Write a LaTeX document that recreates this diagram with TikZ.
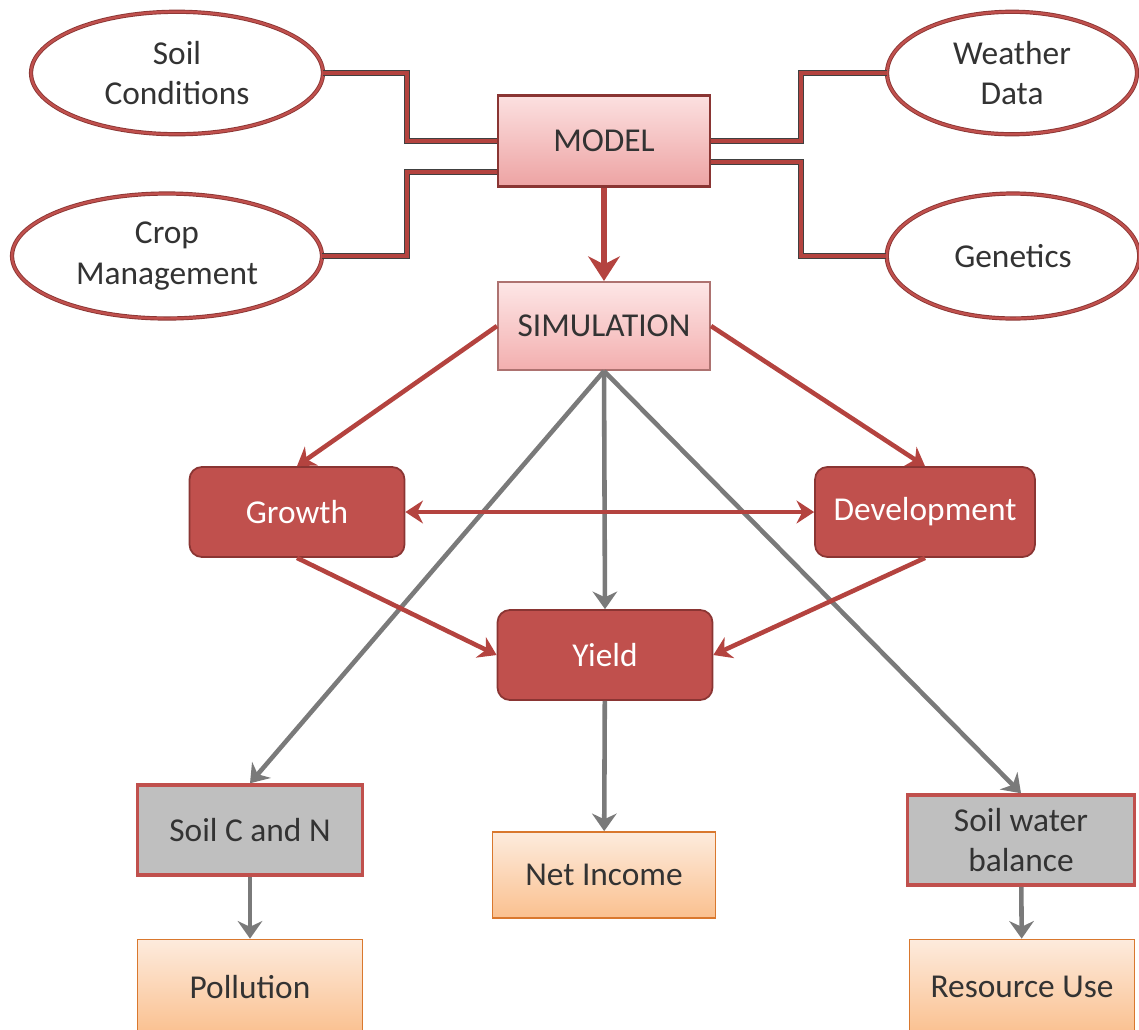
\documentclass[tikz,border=0pt]{standalone}
\usepackage{fontspec}
\setmainfont{Carlito}
\usetikzlibrary{shapes.geometric,arrows.meta}
\definecolor{boxred}{HTML}{C0504D}
\definecolor{darkred}{HTML}{8A3533}
\definecolor{linered}{HTML}{B4433F}
\definecolor{pinklight}{HTML}{FCE0E0}
\definecolor{pinkdark}{HTML}{EDA3A3}
\definecolor{simlight}{HTML}{FDE6E6}
\definecolor{simdark}{HTML}{F3AFAF}
\definecolor{grayfill}{HTML}{BFBFBF}
\definecolor{orangelight}{HTML}{FDEBDD}
\definecolor{orangedark}{HTML}{FAC08F}
\definecolor{orangeline}{HTML}{D9782E}
\definecolor{arrowgray}{HTML}{7A7A7A}
\begin{document}
\begin{tikzpicture}[x=0.02cm,y=-0.02cm,
	every node/.style={align=center,font=\fontsize{19}{23}\selectfont,text=black!80},
	input/.style={ellipse,draw=darkred,double=boxred,double distance=1.4pt,line width=0.5pt,fill=white,minimum width=5.84cm,minimum height=2.45cm,inner sep=0pt},
	modelbox/.style={rectangle,draw=darkred,line width=1.2pt,top color=pinklight,bottom color=pinkdark,minimum width=4.24cm,minimum height=1.82cm},
	simbox/.style={modelbox,draw=darkred!70,top color=simlight,bottom color=simdark,minimum height=1.76cm},
	process/.style={rectangle,rounded corners=7pt,draw=darkred,line width=1pt,fill=boxred,text=white,minimum width=4.3cm,minimum height=1.8cm},
	state/.style={rectangle,draw=boxred,line width=2pt,fill=grayfill,minimum width=4.5cm,minimum height=1.8cm},
	result/.style={rectangle,draw=orangeline,line width=1pt,top color=orangelight,bottom color=orangedark,minimum width=4.5cm,minimum height=1.75cm},
	link/.style={draw=black!75,double=linered,double distance=2.6pt,line width=0.6pt},
	bigarrow/.style={draw=linered,line width=3.4pt,-{Stealth[length=14pt,width=18pt]}},
	redarrow/.style={draw=linered,line width=2.6pt,-{Stealth[length=10pt,width=13pt]}},
	grayarrow/.style={draw=arrowgray,line width=2.6pt,-{Stealth[length=10pt,width=14pt]}}]
	\useasboundingbox (0,0) rectangle (1139,1029);
	\node[input] (soil) at (177,73) {Soil\\Conditions};
	\node[input,minimum width=6.2cm,minimum height=2.5cm] (crop) at (167,256) {Crop\\Management};
	\node[input,minimum width=5cm] (weather) at (1012,73) {Weather\\Data};
	\node[input,minimum width=5.05cm,minimum height=2.5cm] (genetics) at (1013,256) {Genetics};
	\node[modelbox] (model) at (604,141) {MODEL};
	\node[simbox] (sim) at (604,326) {SIMULATION};
	\node[process] (growth) at (297,512) {Growth};
	\node[process,minimum width=4.4cm] (dev) at (925,512) {Development};
	\node[process] (yield) at (605,655) {Yield};
	\node[state] (soilcn) at (250,830) {Soil C and N};
	\node[result,minimum width=4.46cm,minimum height=1.72cm] (income) at (604,875) {Net Income};
	\node[state,minimum width=4.54cm] (water) at (1021,840) {Soil water\\balance};
	\node[result,minimum height=1.9cm] (pollution) at (250,987) {Pollution};
	\node[result,minimum height=1.9cm] (resource) at (1022,987) {Resource Use};
	\draw[link] (soil.east) -| ([xshift=-1.8cm]model.west) -- (model.west);
	\draw[link] (crop.east) -| ([xshift=-1.8cm,yshift=-0.62cm]model.west) -- ([yshift=-0.62cm]model.west);
	\draw[link] (weather.west) -| ([xshift=1.8cm]model.east) -- (model.east);
	\draw[link] (genetics.west) -| ([xshift=1.8cm,yshift=-0.42cm]model.east) -- ([yshift=-0.42cm]model.east);
	\draw[bigarrow] (model) -- (sim);
	\draw[grayarrow] (sim.south) -- (soilcn.north);
	\draw[grayarrow] (sim.south) -- (yield.north);
	\draw[grayarrow] (sim.south) -- (water.north);
	\draw[grayarrow] (yield) -- (income);
	\draw[grayarrow] (soilcn) -- (pollution);
	\draw[grayarrow] (water) -- (resource);
	\draw[redarrow] (sim.west) -- (growth.north);
	\draw[redarrow] (sim.east) -- (dev.north);
	\draw[redarrow,{Stealth[length=10pt,width=13pt]}-{Stealth[length=10pt,width=13pt]}] (growth) -- (dev);
	\draw[redarrow] (growth.south) -- (yield.west);
	\draw[redarrow] (dev.south) -- (yield.east);
\end{tikzpicture}
\end{document}
